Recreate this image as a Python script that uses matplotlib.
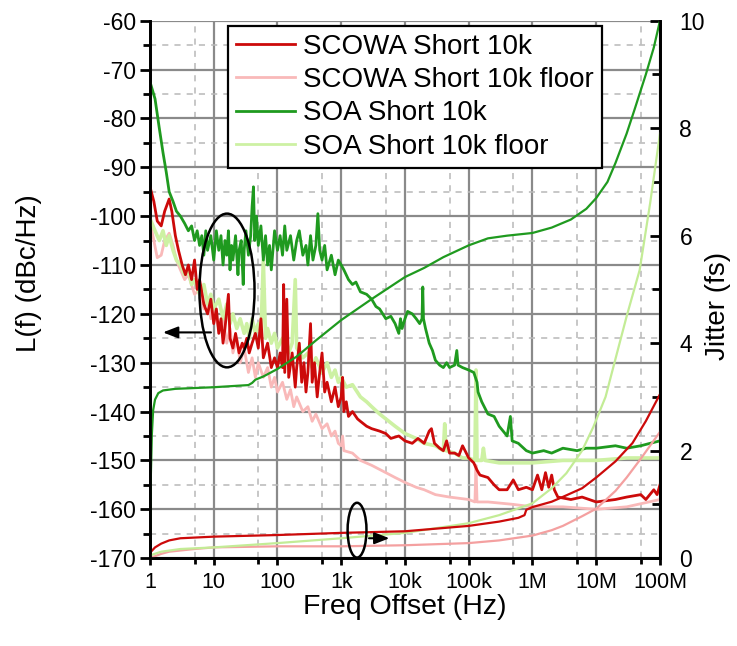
import numpy as np
import matplotlib
matplotlib.use("Agg")
import matplotlib.pyplot as plt
from matplotlib.patches import Ellipse
from matplotlib.ticker import LogLocator, FixedLocator, MultipleLocator, NullFormatter

plt.rcParams['font.family'] = ['Liberation Sans', 'DejaVu Sans']
plt.rcParams['axes.unicode_minus'] = False

# ---------------- phase noise traces (dBc/Hz) ----------------
soa_f = [1, 1.2, 1.4, 1.6, 1.8, 2.0, 2.3, 2.6, 3.0, 3.5, 4, 4.5, 5, 5.5, 6, 6.5, 7, 7.5, 8, 9,
         10, 11, 12, 13, 14, 15, 16, 17, 18, 19, 20, 22, 24, 25, 27, 29, 30, 32, 35, 38,
         40, 42, 44, 47, 50, 55, 60, 65, 70, 75, 80, 90, 100, 110, 120, 130, 140, 160, 180, 200,
         220, 250, 280, 300, 330, 360, 400, 430, 460, 500, 550, 600, 700, 800, 900, 1000, 1100, 1300, 1500, 1700,
         2000, 2500, 3000, 3500, 4000, 5000, 6000, 7000, 8000, 8500, 9000, 10000, 11000, 13000, 15000, 17000, 18500, 19000, 19500, 21000,
         24000, 27000, 30000, 35000, 40000, 45000, 50000, 60000, 65000, 68000, 80000, 100000, 120000, 135000, 140000, 160000, 200000, 250000, 300000, 400000,
         450000, 480000, 600000, 800000, 1e6, 1.5e6, 2e6, 3e6, 5e6, 7e6, 1e7, 2e7, 3e7, 5e7, 7e7, 1e8]
soa_L = [-72.5, -76, -82, -87, -91, -95, -97, -99, -100, -101.5, -103, -102, -105, -103, -106, -104, -108, -103, -107, -104,
         -109, -103, -107, -104, -110, -105, -108, -103, -111, -106, -109, -104, -112, -107, -105, -114, -107, -103, -108, -104,
         -98, -94, -105, -100, -106, -102, -109, -104, -110, -106, -111, -103, -107, -104, -108, -102, -107, -104, -109, -105,
         -103, -108, -106, -110, -104, -109, -106, -99.5, -107, -109, -106, -111, -108, -112, -109, -110, -111, -113, -114, -113.5,
         -115.5, -116, -117, -118.5, -119, -121, -120.5, -122, -124, -121, -123, -121, -119.5, -120, -121, -122, -121, -114.5, -121, -123,
         -126, -127.5, -129.5, -130.5, -131, -130, -131, -130.5, -127.5, -130.5, -131, -131.5, -132, -134, -136, -138, -140.5, -141, -143, -145,
         -141, -146, -146.5, -148, -148.5, -148, -148.5, -147.5, -148, -147.5, -147.5, -147, -147.5, -147, -146.5, -146]

soa_floor_f = [1, 1.2, 1.4, 1.6, 1.8, 2, 2.3, 2.6, 3, 3.5, 4, 4.5, 5, 6, 7, 8, 9, 10, 12, 14,
               16, 18, 20, 23, 26, 30, 33, 36, 40, 45, 50, 55, 60, 65, 70, 80, 90, 100, 120, 150,
               170, 190, 200, 250, 300, 350, 400, 500, 600, 700, 800, 900, 1000, 1200, 1500, 2000, 2500, 3000, 4000, 5000,
               7000, 10000, 15000, 20000, 30000, 40000, 42000, 44000, 60000, 80000, 100000, 125000, 130000, 135000, 160000, 170000, 180000, 300000, 1e6, 3e6,
               1e7, 3e7, 1e8]
soa_floor_L = [-100.5, -103, -105, -103, -106, -104, -107, -109, -110, -112, -111, -114, -113, -116, -114, -118, -116, -119, -117, -121,
               -118, -122, -120, -123, -121, -124, -122, -125, -121, -124, -122, -124, -109, -125, -123, -126, -124, -127, -125, -128,
               -126, -113, -127, -129, -128, -131, -129, -132, -130, -133, -131.5, -134, -133, -135, -134.5, -137, -138, -139, -140.5, -141.5,
               -143, -144.5, -145.5, -146.5, -147, -148, -142.5, -148, -148.5, -149.5, -149.5, -150, -131.5, -150, -150, -147.5, -150, -150.5, -150.5, -150,
               -150, -149.5, -149.5]

scowa_f = [1, 1.15, 1.3, 1.5, 1.7, 2.0, 2.2, 2.5, 2.8, 3.2, 3.6, 4, 4.5, 5, 5.5, 6, 7, 8, 9, 10,
           11, 12, 13, 14, 15, 17, 18, 20, 22, 25, 28, 30, 33, 36, 40, 45, 50, 55, 60, 70,
           80, 90, 100, 110, 120, 125, 130, 140, 150, 170, 190, 200, 220, 240, 260, 280, 300, 330, 350, 380,
           420, 450, 500, 550, 600, 700, 800, 900, 1000, 1050, 1100, 1200, 1300, 1500, 1800, 2000, 2500, 3000, 4000, 5000,
           6000, 8000, 10000, 13000, 16000, 20000, 24000, 26000, 29000, 35000, 40000, 45000, 50000, 60000, 70000, 80000, 100000, 120000, 135000, 150000,
           200000, 250000, 300000, 400000, 500000, 600000, 800000, 1e6, 1.2e6, 1.4e6, 1.6e6, 1.8e6, 2.0e6, 2.2e6, 2.5e6, 4e6, 6e6, 1e7, 2e7, 3e7,
           5e7, 6e7, 8e7, 9e7, 1e8]
scowa_L = [-94, -97, -101, -102, -99, -96.5, -99, -104, -107, -110, -112, -110, -113, -109, -115, -113, -118, -120, -117, -122,
           -119, -124, -121, -126, -123, -116, -125, -127, -124, -128, -126, -127, -125, -128, -126, -124, -127, -121, -129, -126,
           -131, -129, -131, -128, -131, -114, -132, -117, -133, -128, -135, -131, -126, -134, -130, -136, -132, -122, -134, -130,
           -137, -133, -128, -136, -134, -138, -135, -139, -137, -133, -140, -138, -141, -140, -141.5, -142, -143, -143.5, -144, -144.5,
           -145.5, -145, -146, -146.5, -145.5, -146.5, -144, -143.5, -146.5, -147.5, -148, -146, -148.5, -148.5, -149, -147, -149.5, -150.5, -152, -153,
           -153.5, -155, -156, -156, -154, -156, -155.5, -156, -153, -156, -152.5, -155.5, -153, -156, -157.5, -158, -157.5, -158.5, -158, -157.5,
           -157, -158, -156, -157, -155]

scowa_floor_f = [1, 1.15, 1.3, 1.5, 1.7, 2.0, 2.3, 2.6, 3, 3.5, 4, 5, 6, 7, 8, 9, 10, 12, 14, 16,
                 18, 20, 23, 26, 30, 35, 40, 45, 50, 60, 70, 80, 90, 100, 120, 140, 160, 180, 200, 250,
                 300, 350, 400, 500, 600, 700, 800, 900, 1000, 1050, 1100, 1500, 2000, 3000, 5000, 7000, 10000, 15000, 20000, 30000,
                 50000, 100000, 125000, 130000, 135000, 200000, 500000, 1e6, 3e6, 1e7, 3e7, 1e8]
scowa_floor_L = [-101, -105, -108.5, -108, -105, -103.5, -106, -109, -111, -113, -112, -116, -115, -119, -117, -121, -119, -123, -121, -126,
                 -123, -128, -125, -130, -127, -132, -129, -133, -130, -133, -131, -135, -133, -136, -134, -137.5, -135.5, -139, -137, -140,
                 -139, -142, -140.5, -143.5, -142.5, -145, -144, -146.5, -147, -145, -148, -148.5, -150, -151, -152.5, -153.5, -154.5, -155.5, -156, -157,
                 -157.5, -158, -158.5, -151, -158.5, -158.5, -159, -159.5, -159.5, -160, -159.5, -158]

# ---------------- integrated jitter (fs) ----------------
soa_jit_f = [1, 1.03, 1.07, 1.12, 1.2, 1.35, 1.6, 2.5, 10, 35, 40, 45, 60, 100, 200, 400, 1000, 3000, 10000, 20000,
             40000, 100000, 200000, 400000, 1e6, 2e6, 4e6, 7e6, 1e7, 1.5e7, 2e7, 3e7, 4e7, 6e7, 8e7, 1e8]
soa_jit = [0.3, 1.5, 2.3, 2.75, 2.95, 3.07, 3.12, 3.15, 3.18, 3.22, 3.26, 3.32, 3.38, 3.52, 3.75, 4.05, 4.43, 4.82, 5.23, 5.4,
           5.6, 5.82, 5.95, 6.0, 6.05, 6.15, 6.3, 6.5, 6.7, 7.0, 7.35, 7.9, 8.35, 9.0, 9.5, 10.0]

soa_floor_jit_f = [1, 1.5, 3, 10, 100, 1000, 1e4, 1e5, 3e5, 1e6, 2e6, 3.4e6, 6e6, 9e6, 1.4e7, 2.1e7, 3e7, 4.8e7, 7e7, 1e8]
soa_floor_jit = [0.05, 0.12, 0.17, 0.2, 0.28, 0.37, 0.47, 0.65, 0.8, 1.02, 1.3, 1.58, 2.0, 2.44, 3.0, 3.8, 4.5, 5.36, 6.6, 7.9]

scowa_jit_f = [1, 1.2, 1.5, 2, 3, 10, 100, 1000, 1e4, 1e5, 3e5, 6e5, 7.5e5, 8e5, 1e6, 2e6, 3e6, 6e6, 1e7, 2e7, 3.7e7, 6e7, 1e8]
scowa_jit = [0.1, 0.2, 0.27, 0.33, 0.37, 0.4, 0.43, 0.47, 0.5, 0.6, 0.68, 0.75, 0.8, 0.9, 0.95, 1.05, 1.14, 1.3, 1.5, 1.8, 2.14, 2.55, 3.05]

scowa_floor_jit_f = [1, 1.5, 2, 5, 10, 100, 1e3, 1e4, 1e5, 3e5, 1e6, 2e6, 3e6, 6e6, 1e7, 2e7, 3e7, 5e7, 1e8]
scowa_floor_jit = [0.0, 0.08, 0.12, 0.17, 0.2, 0.22, 0.22, 0.24, 0.28, 0.33, 0.42, 0.52, 0.6, 0.78, 0.92, 1.25, 1.5, 1.85, 2.35]

x_ticks = [1, 10, 100, 1e3, 1e4, 1e5, 1e6, 1e7, 1e8]
x_tick_labels = ['1', '10', '100', '1k', '10k', '100k', '1M', '10M', '100M']

RED = '#cc0a0a'
PINK = '#f9b9b9'
GREEN = '#1f9a1f'
LGREEN = '#cdf1a3'

fig = plt.figure(figsize=(7.37, 6.46), dpi=100)
ax = fig.add_axes([0.2035, 0.136, 0.692, 0.832])
ax2 = ax.twinx()

ax.set_xscale('log')
ax.set_xlim(1, 1e8)
ax.set_ylim(-170, -60)
ax2.set_ylim(0, 10)

# phase noise
ax.plot(scowa_floor_f, scowa_floor_L, color=PINK, lw=2.0, zorder=2)
ax.plot(soa_floor_f, soa_floor_L, color=LGREEN, lw=2.6, zorder=3)
ax.plot(scowa_f, scowa_L, color=RED, lw=2.0, zorder=4)
ax.plot(soa_f, soa_L, color=GREEN, lw=2.0, zorder=5)

# jitter
ax2.plot(scowa_floor_jit_f, scowa_floor_jit, color='#f4a0a0', lw=1.6)
ax2.plot(soa_floor_jit_f, soa_floor_jit, color='#c3ec96', lw=1.6)
ax2.plot(scowa_jit_f, scowa_jit, color=RED, lw=1.6)
ax2.plot(soa_jit_f, soa_jit, color=GREEN, lw=1.6)

# ticks
ax.xaxis.set_major_locator(FixedLocator(x_ticks))
ax.set_xticklabels(x_tick_labels)
ax.xaxis.set_minor_locator(LogLocator(base=10, subs=[5.0], numticks=30))
ax.xaxis.set_minor_formatter(NullFormatter())
ax.yaxis.set_major_locator(MultipleLocator(10))
ax.yaxis.set_minor_locator(MultipleLocator(5))
ax2.yaxis.set_major_locator(MultipleLocator(2))
ax2.yaxis.set_minor_locator(MultipleLocator(1))

for a in (ax, ax2):
    a.spines['top'].set_visible(False)
    for s in ('left', 'right', 'bottom'):
        a.spines[s].set_linewidth(2.0)
        a.spines[s].set_color('black')

ax.tick_params(axis='y', which='major', direction='out', length=7, width=2, labelsize=16.5, pad=3)
ax.tick_params(axis='y', which='minor', direction='out', length=5, width=2)
ax.tick_params(axis='x', which='major', direction='out', length=5, width=2, labelsize=15.5, pad=5)
ax.tick_params(axis='x', which='minor', direction='out', length=4, width=2)
ax2.tick_params(axis='y', which='major', direction='in', length=7, width=2, labelsize=16.5, pad=14)
ax2.tick_params(axis='y', which='minor', direction='in', length=6, width=2)

# grid
ax.set_axisbelow(True)
ax.grid(True, which='major', color='#8a8a8a', linewidth=1.6, linestyle='-')
ax.grid(True, which='minor', color='#b8b8b8', linewidth=1.1, linestyle=(0, (4, 4)))

ax.set_xlabel('Freq Offset (Hz)', fontsize=20.5)
ax.xaxis.set_label_coords(0.5, -0.066)
ax.set_ylabel('L(f) (dBc/Hz)', fontsize=20)
ax.yaxis.set_label_coords(-0.212, 0.53)
ax2.set_ylabel('Jitter (fs)', fontsize=20)
ax2.yaxis.set_label_coords(1.088, 0.47)

# legend
handles = [
    plt.Line2D([], [], color=RED, lw=2),
    plt.Line2D([], [], color=PINK, lw=2),
    plt.Line2D([], [], color=GREEN, lw=2),
    plt.Line2D([], [], color=LGREEN, lw=2),
]
labels = ['SCOWA Short 10k', 'SCOWA Short 10k floor', 'SOA Short 10k', 'SOA Short 10k floor']
leg = ax2.legend(handles, labels, loc='upper left', bbox_to_anchor=(0.153, 0.991),
                 fontsize=20, frameon=True, fancybox=False, handlelength=2.1,
                 handletextpad=0.3, borderpad=0.3, labelspacing=0.26, borderaxespad=0.0)
leg.get_frame().set_edgecolor('black')
leg.get_frame().set_linewidth(1.6)
leg.get_frame().set_alpha(1)

# annotations: ellipses with arrows pointing to the relevant axis
ax2.add_patch(Ellipse((0.151, 0.498), 0.108, 0.286, transform=ax2.transAxes,
                      fill=False, ec='black', lw=1.8, zorder=10))
ax2.annotate('', xy=(0.02, 0.42), xytext=(0.125, 0.42), xycoords='axes fraction',
             arrowprops=dict(arrowstyle='-|>,head_length=0.9,head_width=0.35', color='black', lw=1.5), zorder=10)
ax2.add_patch(Ellipse((0.406, 0.052), 0.037, 0.102, transform=ax2.transAxes,
                      fill=False, ec='black', lw=1.8, zorder=10))
ax2.annotate('', xy=(0.475, 0.037), xytext=(0.424, 0.037), xycoords='axes fraction',
             arrowprops=dict(arrowstyle='-|>,head_length=0.9,head_width=0.35', color='black', lw=1.5), zorder=10)

fig.savefig('out.png', dpi=100)
